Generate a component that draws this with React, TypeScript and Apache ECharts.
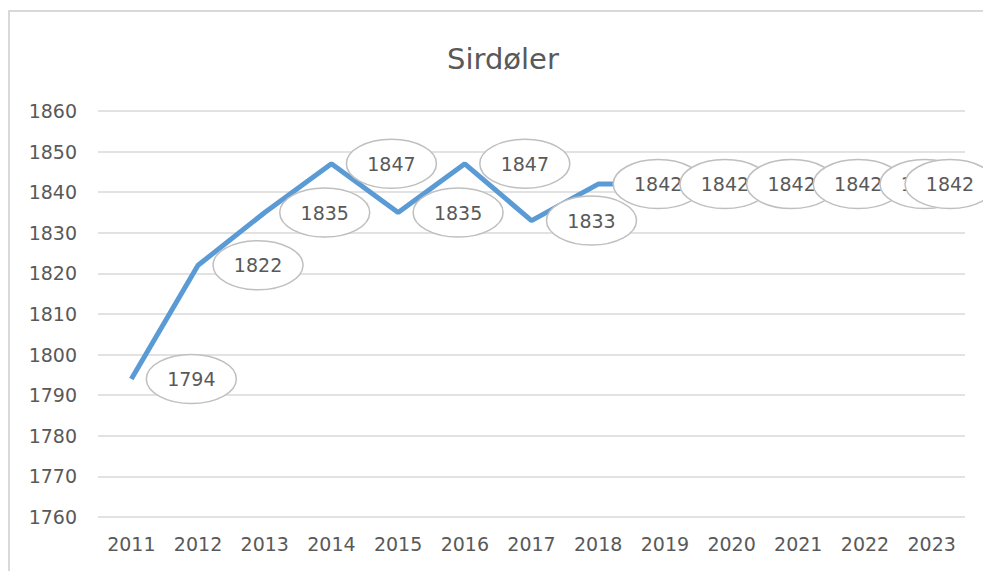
import React, { useEffect, useRef } from "react";
import * as echarts from "echarts";

const TITLE = "Sirdøler";
const YEARS = ["2011", "2012", "2013", "2014", "2015", "2016", "2017", "2018", "2019", "2020", "2021", "2022", "2023"];
const VALUES = [1794, 1822, 1835, 1847, 1835, 1847, 1833, 1842, 1842, 1842, 1842, 1842, 1842];
const Y_MIN = 1760;
const Y_MAX = 1860;
const Y_STEP = 10;

const FONT = "DejaVu Sans";
const TEXT_COLOR = "#595959";

export default function App() {
  const ref = useRef<HTMLDivElement>(null);

  useEffect(() => {
    if (!ref.current) return;
    const chart = echarts.init(ref.current, undefined, { renderer: "svg" });
    const labelData = VALUES.map((v, i) => [i, v]);
    chart.setOption({
      animation: false,
      backgroundColor: "#ffffff",
      title: {
        text: TITLE,
        left: 442,
        top: 39,
        textStyle: { fontFamily: FONT, fontSize: 29, fontWeight: "normal", color: TEXT_COLOR },
      },
      grid: { left: 98, right: 18, top: 111, bottom: 54 },
      xAxis: {
        type: "category",
        data: YEARS,
        boundaryGap: true,
        axisLine: { show: false },
        axisTick: { show: false },
        axisLabel: { color: TEXT_COLOR, fontFamily: FONT, fontSize: 19, margin: 17 },
      },
      yAxis: {
        type: "value",
        min: Y_MIN,
        max: Y_MAX,
        interval: Y_STEP,
        axisLine: { show: false },
        axisTick: { show: false },
        axisLabel: {
          color: TEXT_COLOR,
          fontFamily: FONT,
          fontSize: 19,
          margin: 21,
          formatter: (v: number) => String(v),
        },
        splitLine: { lineStyle: { color: "#D9D9D9", width: 1.5 } },
      },
      graphic: [
        {
          type: "polyline",
          shape: { points: [[9, 571], [9, 11], [983, 11]] },
          style: { stroke: "#D9D9D9", lineWidth: 2, fill: "none" },
          silent: true,
        },
      ],
      series: [
        {
          type: "line",
          data: VALUES,
          showSymbol: false,
          symbol: "none",
          lineStyle: { color: "#5B9BD5", width: 5 },
          itemStyle: { color: "#5B9BD5" },
          z: 2,
        },
        {
          type: "custom",
          data: labelData,
          encode: { x: 0, y: 1 },
          z: 3,
          clip: false,
          renderItem: (params: any, api: any) => {
            const idx = api.value(0);
            const v = api.value(1);
            const pt = api.coord([idx, v]);
            const cx = Math.min(pt[0] + 60, api.getWidth() - 33);
            const cy = pt[1];
            const k = params.dataIndex;
            return {
              type: "group",
              children: [
                {
                  type: "ellipse",
                  shape: { cx, cy, rx: 45, ry: 24.5 },
                  style: { fill: "#ffffff", stroke: "#BFBFBF", lineWidth: 1.5 },
                  z2: k * 2,
                },
                {
                  type: "text",
                  x: cx,
                  y: cy,
                  style: {
                    text: String(v),
                    align: "center",
                    verticalAlign: "middle",
                    fontFamily: FONT,
                    fontSize: 19,
                    fill: TEXT_COLOR,
                  },
                  z2: k * 2 + 1,
                },
              ],
            };
          },
        },
      ],
    });
    return () => chart.dispose();
  }, []);

  return (
    <div
      ref={ref}
      style={{ position: "fixed", left: 0, top: 0, width: 983, height: 571, background: "#fff" }}
    />
  );
}
